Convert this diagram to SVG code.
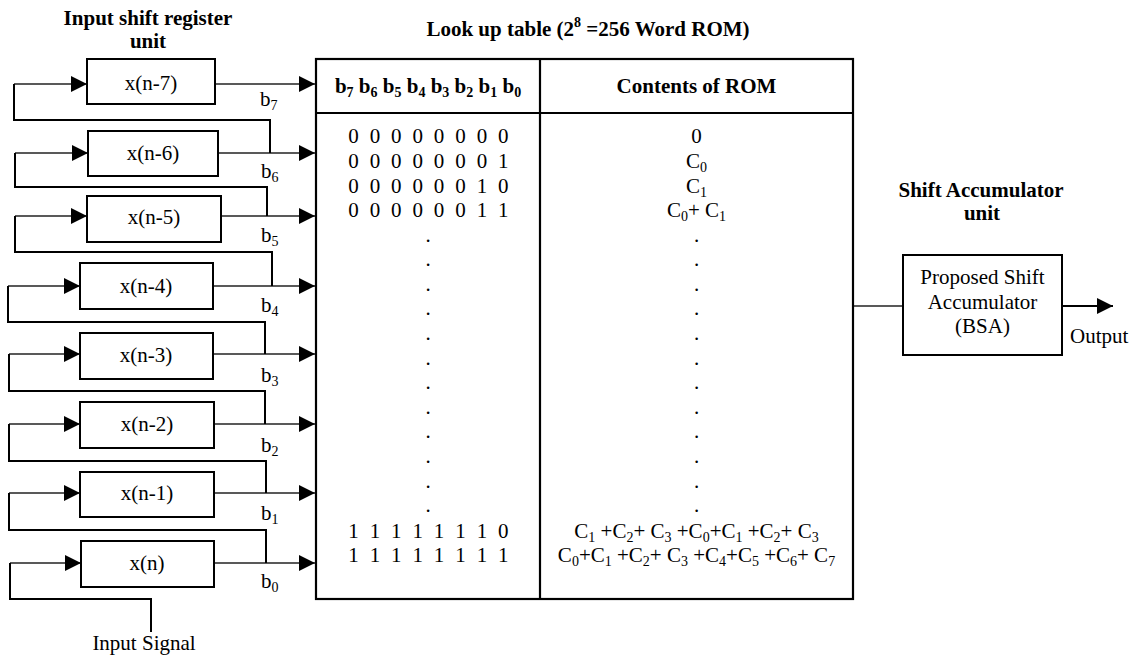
<svg xmlns="http://www.w3.org/2000/svg" width="1136" height="656" viewBox="0 0 1136 656">
<style>
text{font-family:"Liberation Serif","Times New Roman",serif;font-size:21px;fill:#000}
.b{font-weight:bold}
.m{text-anchor:middle}
.s{font-size:14px}
.box{fill:#fff;stroke:#000;stroke-width:2}
.io{fill:none;stroke:#222;stroke-width:1.3}
.lp{fill:none;stroke:#000;stroke-width:2}
.tb{fill:none;stroke:#000;stroke-width:2.2}
</style>
<defs>
<marker id="ah" markerUnits="userSpaceOnUse" markerWidth="16" markerHeight="16" refX="16" refY="8" orient="auto">
<path d="M0,0 L16,8 L0,16 z" fill="#000"/>
</marker>
</defs>
<rect width="1136" height="656" fill="#fff"/>

<g id="titles">
<text class="b m" x="148" y="25">Input shift register</text>
<text class="b m" x="148" y="48">unit</text>
<text class="b m" x="588" y="36">Look up table (2<tspan class="s" dy="-9">8</tspan><tspan dy="9"> =256 Word ROM)</tspan></text>
<text class="b m" x="981" y="197">Shift Accumulator</text>
<text class="b m" x="982" y="220">unit</text>
</g>

<g id="connectors">
<!-- register outputs to table -->
<line class="io" x1="215" y1="84" x2="315" y2="84" marker-end="url(#ah)"/>
<line class="io" x1="218" y1="153" x2="315" y2="153" marker-end="url(#ah)"/>
<line class="io" x1="221" y1="216" x2="315" y2="216" marker-end="url(#ah)"/>
<line class="io" x1="213" y1="286" x2="315" y2="286" marker-end="url(#ah)"/>
<line class="io" x1="213" y1="354" x2="315" y2="354" marker-end="url(#ah)"/>
<line class="io" x1="214" y1="424" x2="315" y2="424" marker-end="url(#ah)"/>
<line class="io" x1="214" y1="493" x2="315" y2="493" marker-end="url(#ah)"/>
<line class="io" x1="214" y1="563" x2="315" y2="563" marker-end="url(#ah)"/>
<!-- register inputs -->
<line class="io" x1="14" y1="84" x2="87" y2="84" marker-end="url(#ah)"/>
<line class="io" x1="15" y1="153" x2="88" y2="153" marker-end="url(#ah)"/>
<line class="io" x1="15" y1="216" x2="87" y2="216" marker-end="url(#ah)"/>
<line class="io" x1="8" y1="286" x2="80" y2="286" marker-end="url(#ah)"/>
<line class="io" x1="9" y1="354" x2="80" y2="354" marker-end="url(#ah)"/>
<line class="io" x1="9" y1="424" x2="80" y2="424" marker-end="url(#ah)"/>
<line class="io" x1="9" y1="493" x2="80" y2="493" marker-end="url(#ah)"/>
<line class="io" x1="10" y1="563" x2="81" y2="563" marker-end="url(#ah)"/>
<!-- feedback loops -->
<polyline class="lp" points="270,153 270,120 14,120 14,84"/>
<polyline class="lp" points="267,216 267,187 15,187 15,153"/>
<polyline class="lp" points="272,286 272,252 15,252 15,216"/>
<polyline class="lp" points="265,354 265,322 8,322 8,286"/>
<polyline class="lp" points="265,424 265,391 9,391 9,354"/>
<polyline class="lp" points="266,493 266,461 9,461 9,424"/>
<polyline class="lp" points="266,563 266,530 9,530 9,493"/>
<polyline class="lp" points="151,632 151,599 10,599 10,563"/>
<!-- table to accumulator, output -->
<line class="io" x1="853" y1="306" x2="903" y2="306"/>
<line class="lp" x1="1062" y1="306" x2="1113" y2="306" marker-end="url(#ah)"/>
</g>

<g id="bit-labels">
<text x="260" y="106">b<tspan class="s" dy="4">7</tspan></text>
<text x="261" y="178">b<tspan class="s" dy="4">6</tspan></text>
<text x="261" y="242">b<tspan class="s" dy="4">5</tspan></text>
<text x="261" y="312">b<tspan class="s" dy="4">4</tspan></text>
<text x="261" y="382">b<tspan class="s" dy="4">3</tspan></text>
<text x="261" y="452">b<tspan class="s" dy="4">2</tspan></text>
<text x="261" y="520">b<tspan class="s" dy="4">1</tspan></text>
<text x="261" y="588">b<tspan class="s" dy="4">0</tspan></text>
<text class="m" x="144" y="650">Input Signal</text>
<text x="1070" y="343">Output</text>
</g>

<g id="reg7"><rect class="box" x="87" y="59" width="128" height="45"/><text class="m" x="151" y="90">x(n-7)</text></g>
<g id="reg6"><rect class="box" x="88" y="131" width="130" height="45"/><text class="m" x="153" y="160">x(n-6)</text></g>
<g id="reg5"><rect class="box" x="87" y="196" width="134" height="46"/><text class="m" x="154" y="224">x(n-5)</text></g>
<g id="reg4"><rect class="box" x="80" y="263" width="133" height="46"/><text class="m" x="146" y="293">x(n-4)</text></g>
<g id="reg3"><rect class="box" x="80" y="333" width="133" height="46"/><text class="m" x="146" y="362">x(n-3)</text></g>
<g id="reg2"><rect class="box" x="80" y="402" width="134" height="46"/><text class="m" x="147" y="431">x(n-2)</text></g>
<g id="reg1"><rect class="box" x="80" y="472" width="134" height="45"/><text class="m" x="147" y="500">x(n-1)</text></g>
<g id="reg0"><rect class="box" x="81" y="541" width="133" height="46"/><text class="m" x="147" y="570">x(n)</text></g>

<g id="rom">
<rect class="tb" x="316" y="59" width="537" height="540"/>
<line class="tb" x1="316" y1="113" x2="853" y2="113"/>
<line class="tb" x1="540" y1="59" x2="540" y2="599"/>
<text class="b m" x="428" y="93">b<tspan class="s" dy="4">7</tspan><tspan dy="-4"> b</tspan><tspan class="s" dy="4">6</tspan><tspan dy="-4"> b</tspan><tspan class="s" dy="4">5</tspan><tspan dy="-4"> b</tspan><tspan class="s" dy="4">4</tspan><tspan dy="-4"> b</tspan><tspan class="s" dy="4">3</tspan><tspan dy="-4"> b</tspan><tspan class="s" dy="4">2</tspan><tspan dy="-4"> b</tspan><tspan class="s" dy="4">1</tspan><tspan dy="-4"> b</tspan><tspan class="s" dy="4">0</tspan></text>
<text class="b m" x="696.5" y="93">Contents of ROM</text>

<g class="m">
<text x="353.5 374.9 396.3 417.7 439.1 460.5 481.9 503.3" y="143.3">00000000</text>
<text x="353.5 374.9 396.3 417.7 439.1 460.5 481.9 503.3" y="168">00000001</text>
<text x="353.5 374.9 396.3 417.7 439.1 460.5 481.9 503.3" y="192.6">00000010</text>
<text x="353.5 374.9 396.3 417.7 439.1 460.5 481.9 503.3" y="217.2">00000011</text>
<text x="353.5 374.9 396.3 417.7 439.1 460.5 481.9 503.3" y="537.5">11111110</text>
<text x="353.5 374.9 396.3 417.7 439.1 460.5 481.9 503.3" y="562">11111111</text>
</g>
<g>
<text class="m" x="428" y="241.5">.</text><text class="m" x="428" y="266.1">.</text><text class="m" x="428" y="290.7">.</text><text class="m" x="428" y="315.3">.</text>
<text class="m" x="428" y="339.9">.</text><text class="m" x="428" y="364.5">.</text><text class="m" x="428" y="389.1">.</text><text class="m" x="428" y="413.7">.</text>
<text class="m" x="428" y="438.3">.</text><text class="m" x="428" y="462.9">.</text><text class="m" x="428" y="487.5">.</text><text class="m" x="428" y="512.1">.</text>
<text class="m" x="696.5" y="241.5">.</text><text class="m" x="696.5" y="266.1">.</text><text class="m" x="696.5" y="290.7">.</text><text class="m" x="696.5" y="315.3">.</text>
<text class="m" x="696.5" y="339.9">.</text><text class="m" x="696.5" y="364.5">.</text><text class="m" x="696.5" y="389.1">.</text><text class="m" x="696.5" y="413.7">.</text>
<text class="m" x="696.5" y="438.3">.</text><text class="m" x="696.5" y="462.9">.</text><text class="m" x="696.5" y="487.5">.</text><text class="m" x="696.5" y="512.1">.</text>
</g>
<text class="m" x="696.5" y="143.3">0</text>
<text class="m" x="696.5" y="168">C<tspan class="s" dy="4">0</tspan></text>
<text class="m" x="696.5" y="192.6">C<tspan class="s" dy="4">1</tspan></text>
<text class="m" x="696.5" y="217.2">C<tspan class="s" dy="4">0</tspan><tspan dy="-4">+ C</tspan><tspan class="s" dy="4">1</tspan></text>
<text class="m" x="696.5" y="537.5">C<tspan class="s" dy="4">1</tspan><tspan dy="-4"> +C</tspan><tspan class="s" dy="4">2</tspan><tspan dy="-4">+ C</tspan><tspan class="s" dy="4">3</tspan><tspan dy="-4"> +C</tspan><tspan class="s" dy="4">0</tspan><tspan dy="-4">+C</tspan><tspan class="s" dy="4">1</tspan><tspan dy="-4"> +C</tspan><tspan class="s" dy="4">2</tspan><tspan dy="-4">+ C</tspan><tspan class="s" dy="4">3</tspan></text>
<text class="m" x="696.5" y="562">C<tspan class="s" dy="4">0</tspan><tspan dy="-4">+C</tspan><tspan class="s" dy="4">1</tspan><tspan dy="-4"> +C</tspan><tspan class="s" dy="4">2</tspan><tspan dy="-4">+ C</tspan><tspan class="s" dy="4">3</tspan><tspan dy="-4"> +C</tspan><tspan class="s" dy="4">4</tspan><tspan dy="-4">+C</tspan><tspan class="s" dy="4">5</tspan><tspan dy="-4"> +C</tspan><tspan class="s" dy="4">6</tspan><tspan dy="-4">+ C</tspan><tspan class="s" dy="4">7</tspan></text>
</g>

<g id="bsa">
<rect class="box" x="903" y="255" width="159" height="100"/>
<text class="m" x="982.5" y="284">Proposed Shift</text>
<text class="m" x="982.5" y="309">Accumulator</text>
<text class="m" x="982.5" y="333">(BSA)</text>
</g>
</svg>
